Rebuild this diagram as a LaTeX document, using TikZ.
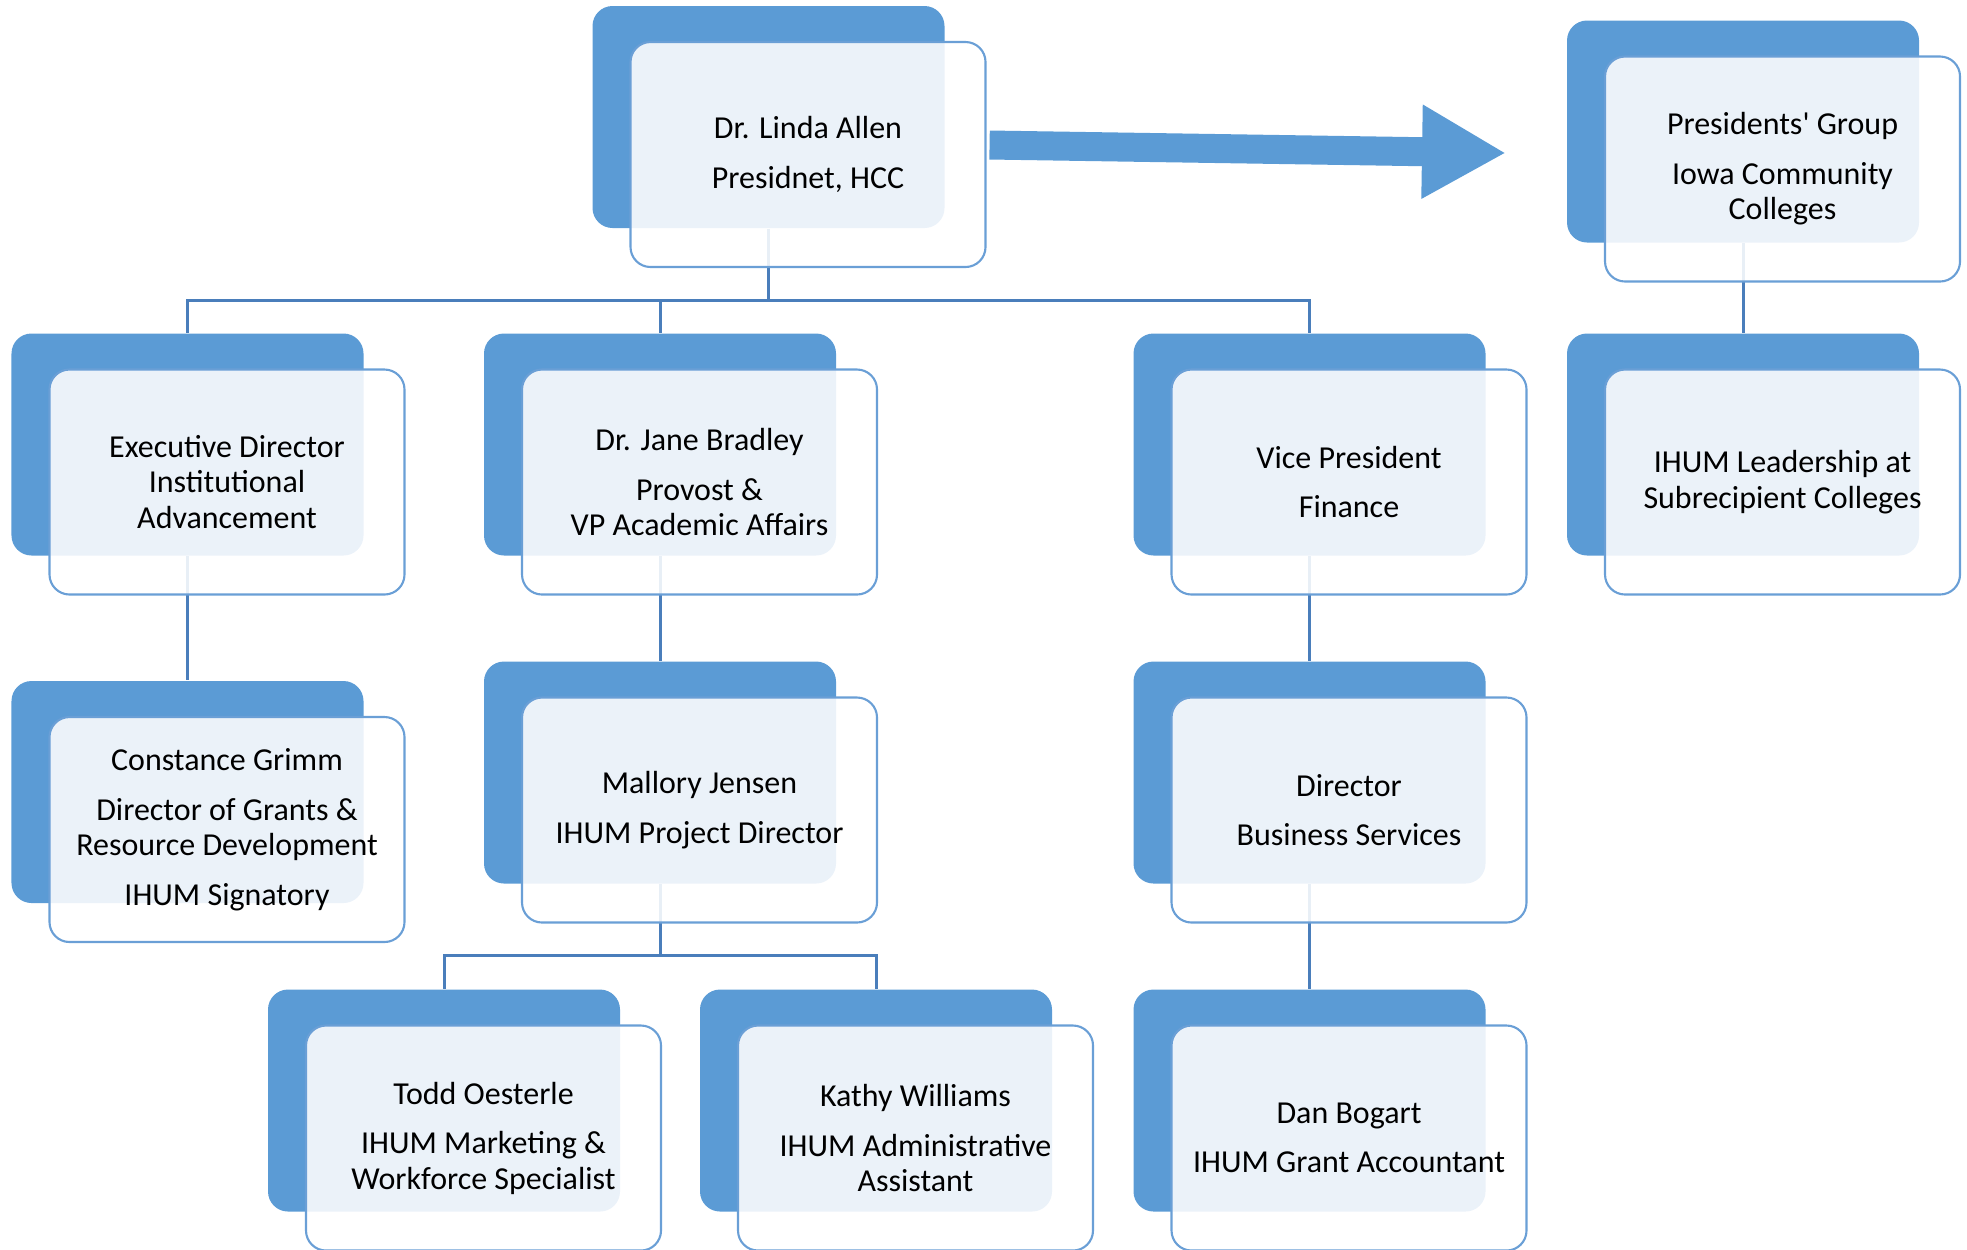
\documentclass[tikz,border=0pt]{standalone}
\usepackage{fontspec}
\setmainfont{Carlito}
\usetikzlibrary{arrows.meta}
\definecolor{boxblue}{HTML}{5B9BD5}
\definecolor{edgeblue}{HTML}{6A9FD6}
\definecolor{linkblue}{HTML}{4A7EBB}

\begin{document}
\begin{tikzpicture}[
        backbox/.style = {fill=boxblue, rounded corners=0.2cm, minimum width=3.52cm, minimum height=2.22cm, inner sep=0pt},
        frontbox/.style = {draw=edgeblue, line width=0.6pt, fill=white, fill opacity=0.88, text opacity=1, rounded corners=0.2cm,
            minimum width=3.55cm, minimum height=2.25cm, align=center, font=\fontsize{9.1}{10.1}\selectfont},
        link/.style = {draw=linkblue, line width=0.85pt},
        bigarrow/.style = {draw=boxblue, line width=0.29cm, -{Triangle[width=0.88cm, length=0.84cm]}}
    ]
        \useasboundingbox (0,0) rectangle (19.67,-12.49);

        \node[backbox] (allen-b) at (7.685,-1.17) {};
        \node[backbox] (pres-b) at (17.43,-1.315) {};
        \node[backbox] (lead-b) at (17.43,-4.445) {};
        \node[backbox] (exec-b) at (1.875,-4.445) {};
        \node[backbox] (jane-b) at (6.60,-4.445) {};
        \node[backbox] (vp-b) at (13.095,-4.445) {};
        \node[backbox] (grimm-b) at (1.875,-7.92) {};
        \node[backbox] (jensen-b) at (6.60,-7.725) {};
        \node[backbox] (dirbs-b) at (13.095,-7.725) {};
        \node[backbox] (todd-b) at (4.44,-11.005) {};
        \node[backbox] (kathy-b) at (8.76,-11.005) {};
        \node[backbox] (dan-b) at (13.095,-11.005) {};

        \coordinate (bus1) at (7.685,-3.00);
        \coordinate (bus2) at (6.60,-9.55);
        \draw[link] (allen-b.south) -- (bus1);
        \foreach \c in {exec,jane,vp}
            \draw[link] (bus1) -| (\c-b.north);
        \draw[link] (exec-b.south) -- (grimm-b.north);
        \draw[link] (jane-b.south) -- (jensen-b.north);
        \draw[link] (vp-b.south) -- (dirbs-b.north);
        \draw[link] (dirbs-b.south) -- (dan-b.north);
        \draw[link] (pres-b.south) -- (lead-b.north);
        \draw[link] (jensen-b.south) -- (bus2);
        \foreach \c in {todd,kathy}
            \draw[link] (bus2) -| (\c-b.north);

        \node[frontbox] (allen) at ([shift={(0.395,-0.375)}]allen-b) {Dr. Linda Allen\\[4pt]Presidnet, HCC};
        \node[frontbox] (pres) at ([shift={(0.395,-0.375)}]pres-b) {Presidents\textquotesingle{} Group\\[4pt]Iowa Community\\Colleges};
        \node[frontbox] (lead) at ([shift={(0.395,-0.375)}]lead-b) {IHUM Leadership at\\Subrecipient Colleges};
        \node[frontbox] (exec) at ([shift={(0.395,-0.375)}]exec-b) {Executive Director\\Institutional\\Advancement};
        \node[frontbox] (jane) at ([shift={(0.395,-0.375)}]jane-b) {Dr. Jane Bradley\\[4pt]Provost \&\\VP Academic Affairs};
        \node[frontbox] (vp) at ([shift={(0.395,-0.375)}]vp-b) {Vice President\\[4pt]Finance};
        \node[frontbox] (grimm) at ([shift={(0.395,-0.375)}]grimm-b) {Constance Grimm\\[4pt]Director of Grants \&\\Resource Development\\[4pt]IHUM Signatory};
        \node[frontbox] (jensen) at ([shift={(0.395,-0.375)}]jensen-b) {Mallory Jensen\\[4pt]IHUM Project Director};
        \node[frontbox] (dirbs) at ([shift={(0.395,-0.375)}]dirbs-b) {Director\\[4pt]Business Services};
        \node[frontbox] (todd) at ([shift={(0.395,-0.375)}]todd-b) {Todd Oesterle\\[4pt]IHUM Marketing \&\\Workforce Specialist};
        \node[frontbox] (kathy) at ([shift={(0.395,-0.375)}]kathy-b) {Kathy Williams\\[4pt]IHUM Administrative\\Assistant};
        \node[frontbox] (dan) at ([shift={(0.395,-0.375)}]dan-b) {Dan Bogart\\[4pt]IHUM Grant Accountant};

        \coordinate (arrtip) at (15.06,-1.53);
        \draw[bigarrow] ([shift={(0.03,0.095)}]allen.east) -- (arrtip);
\end{tikzpicture}
\end{document}
